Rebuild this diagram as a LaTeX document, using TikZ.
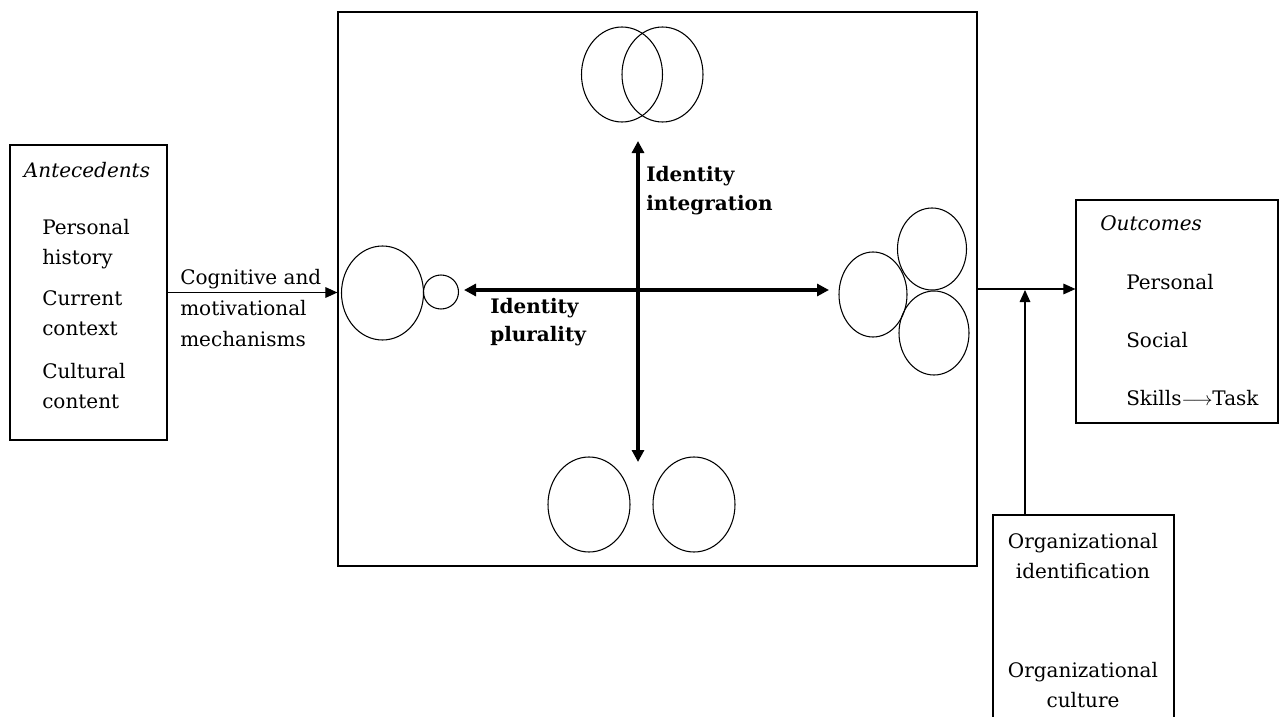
\documentclass[tikz,border=0pt]{standalone}
\usepackage{fontspec}
\setmainfont{DejaVu Serif}
\usetikzlibrary{arrows.meta}

\tikzset{
    box/.style={draw, line width=0.9pt, inner sep=0pt},
    txt/.style={font=\fontsize{15}{22.5}\selectfont, inner sep=0pt, align=left},
    bold/.style={txt, font=\fontsize{15}{21.5}\selectfont\bfseries},
    link/.style={line width=0.8pt, -{Triangle[length=9pt,width=8pt]}},
    idaxis/.style={line width=2.5pt, {Triangle[length=9pt,width=9pt]}-{Triangle[length=9pt,width=9pt]}},
    blob/.style={line width=0.8pt}
}

\begin{document}
\begin{tikzpicture}[x=0.75pt, y=-0.75pt]
        \useasboundingbox (0,0) rectangle (1286,717);

        % Cadres
        \node[box, minimum width=117.75pt, minimum height=221.25pt] (ante) at (88.5,292.5) {};
        \node[box, minimum width=479.25pt, minimum height=415.5pt] (main) at (657.5,289) {};
        \node[box, minimum width=151.5pt, minimum height=167.25pt] (out) at (1177,311.5) {};
        \node[box, minimum width=135.75pt, minimum height=161.25pt] (org) at (1083.5,622.5) {};

        % Antecedents
        \node[txt, font=\fontsize{15}{22.5}\selectfont\itshape] (anteT) at (87,170) {Antecedents};
        \node[txt, anchor=west] (hist) at (42,244.5) {Personal\\history};
        \node[txt, anchor=west] (ctx) at (42,313) {Current\\context};
        \node[txt, anchor=west] (cult) at (42,386) {Cultural\\content};

        % Mecanismes
        \node[txt, anchor=west, font=\fontsize{15}{23.5}\selectfont] (mech) at (180,308) {Cognitive and\\motivational\\mechanisms};
        \draw[link] (ante.east) -- (ante.east -| main.west);

        % Axes de l'identite
        \coordinate (plurL) at (464,290);
        \coordinate (plurR) at (829,290);
        \coordinate (integT) at (638,141);
        \coordinate (integB) at (638,462);
        \draw[idaxis] (plurL) -- (plurR);
        \draw[idaxis] (integT) -- (integB);
        \node[bold, anchor=west] (integ) at (646,190.5) {Identity\\integration};
        \node[bold, anchor=west] (plur) at (490,322) {Identity\\plurality};

        % Cercles (x/y/rx/ry)
        \foreach \x/\y/\rx/\ry in {
            622/74.5/40.5/47.5, 662.5/74.5/40.5/47.5,
            382.5/293/41/47, 441/292/17.5/17,
            873/294.5/34/42.5, 932/249/34.5/41, 934/333/35/42,
            589/504.5/41/47.5, 694/504.5/41/47.5
        }{
            \draw[blob] (\x,\y) ellipse [x radius=\rx, y radius=\ry];
        }

        % Outcomes
        \node[txt, anchor=west, font=\fontsize{15}{22.5}\selectfont\itshape] (outT) at (1100,223) {Outcomes};
        \node[txt, anchor=west] (pers) at (1126,282) {Personal};
        \node[txt, anchor=west] (soc) at (1126,340) {Social};
        \node[txt, anchor=west] (task) at (1126,398) {Skills$\longrightarrow$Task};
        \draw[link] (main.east) -- (main.east -| out.west);

        % Organisation
        \node[txt, align=center] (orgid) at (1083,556) {Organizational\\identification};
        \node[txt, align=center] (orgcult) at (1083,685) {Organizational\\culture};
        \coordinate (join) at (1025,290);
        \draw[link] (join |- org.north) -- (join);

    \end{tikzpicture}
\end{document}
